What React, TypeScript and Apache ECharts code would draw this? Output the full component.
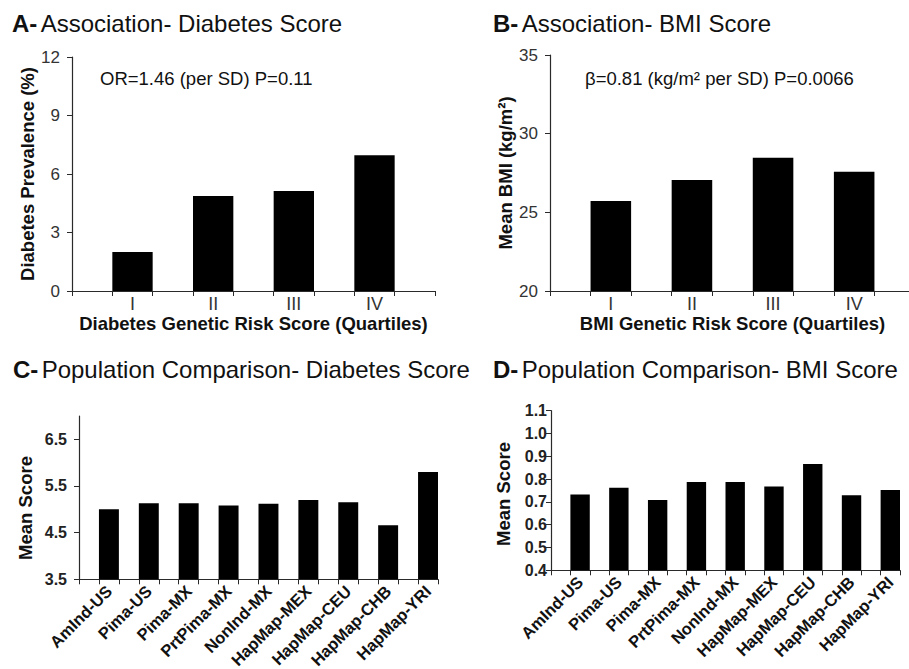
import React, { useEffect, useRef } from "react";
import * as echarts from "echarts";

const FONT = '"Liberation Sans", Arial, Helvetica, sans-serif';

// Panel A / B
const quartiles = ["I", "II", "III", "IV"];
const diabetesPrevalence = [2.0, 4.87, 5.13, 6.96];
const meanBmi = [25.72, 27.06, 28.47, 27.58];

// Panel C / D
const populations = [
  "AmInd-US",
  "Pima-US",
  "Pima-MX",
  "PrtPima-MX",
  "NonInd-MX",
  "HapMap-MEX",
  "HapMap-CEU",
  "HapMap-CHB",
  "HapMap-YRI",
];
const diabetesScore = [5.0, 5.13, 5.13, 5.08, 5.12, 5.2, 5.15, 4.66, 5.8];
const bmiScore = [0.732, 0.762, 0.708, 0.787, 0.787, 0.768, 0.866, 0.729, 0.752];

const diabetesScoreTicks = [3.5, 4.5, 5.5, 6.5];

function spaced(labels: string[], values: number[], trailing: boolean) {
  const cats: string[] = [];
  const vals: (number | null)[] = [];
  labels.forEach((l, i) => {
    cats.push(`gap${i}`);
    vals.push(null);
    cats.push(l);
    vals.push(values[i]);
  });
  if (trailing) {
    cats.push("gapEnd");
    vals.push(null);
  }
  return { cats, vals };
}

const hideGap = (v: string) => (v.startsWith("gap") ? "" : v);

const AXIS_COLOR = "#2a2a2a";

function catAxis(gridIndex: number, cats: string[], extra: any) {
  return {
    gridIndex,
    type: "category",
    data: cats,
    boundaryGap: true,
    axisLine: { show: true, lineStyle: { color: AXIS_COLOR, width: 1.2 } },
    axisTick: { show: true, interval: 0, length: 5, lineStyle: { color: AXIS_COLOR } },
    splitLine: { show: false },
    ...extra,
  };
}

function valAxis(gridIndex: number, extra: any) {
  return {
    gridIndex,
    type: "value",
    axisLine: { show: true, lineStyle: { color: AXIS_COLOR, width: 1.2 } },
    axisTick: { show: true, length: 5, lineStyle: { color: AXIS_COLOR } },
    splitLine: { show: false },
    ...extra,
  };
}

export default function App() {
  const ref = useRef<HTMLDivElement>(null);

  useEffect(() => {
    if (!ref.current) return;
    const chart = echarts.init(ref.current, null, { renderer: "svg" });

    const a = spaced(quartiles, diabetesPrevalence, true);
    const b = spaced(quartiles, meanBmi, true);
    const c = spaced(populations, diabetesScore, false);
    const d = spaced(populations, bmiScore, false);

    const quartLabel = {
      interval: 0,
      formatter: hideGap,
      fontSize: 18,
      color: "#333",
      margin: 4,
      fontFamily: FONT,
    };
    const popLabel = {
      interval: 0,
      formatter: hideGap,
      rotate: 45,
      fontSize: 16.5,
      fontWeight: "bold",
      color: "#111",
      margin: 9,
      fontFamily: FONT,
    };
    const xName = {
      nameLocation: "middle",
      nameGap: 21,
      nameTextStyle: { fontSize: 18.5, fontWeight: "bold", color: "#111", fontFamily: FONT },
    };
    const yName = (gap: number) => ({
      nameLocation: "middle",
      nameGap: gap,
      nameRotate: 90,
      nameTextStyle: { fontSize: 18.5, fontWeight: "bold", color: "#111", fontFamily: FONT },
    });

    const title = (letter: string, text: string, x: number, y: number) => ({
      type: "text",
      x,
      y,
      style: {
        text: `{b|${letter}} {r|${text}}`,
        verticalAlign: "middle",
        rich: {
          b: { fontSize: 24, fontWeight: "bold", fontFamily: FONT, fill: "#111" },
          r: { fontSize: 24, fontFamily: FONT, fill: "#111" },
        },
      },
    });

    const barSeries = (idx: number, data: (number | null)[]) => ({
      type: "bar",
      xAxisIndex: idx,
      yAxisIndex: idx,
      data,
      barCategoryGap: "0%",
      barGap: "0%",
      itemStyle: { color: "#000" },
      silent: true,
    });

    chart.setOption({
      animation: false,
      backgroundColor: "#fff",
      grid: [
        { left: 72, top: 57, width: 363, height: 234, outerBoundsMode: "none" },
        { left: 550, top: 55, width: 365, height: 236, outerBoundsMode: "none" },
        { left: 79, top: 416, width: 359, height: 163.3, outerBoundsMode: "none" },
        { left: 551, top: 410.7, width: 349, height: 159.6, outerBoundsMode: "none" },
      ],
      xAxis: [
        catAxis(0, a.cats, {
          axisLabel: quartLabel,
          name: "Diabetes Genetic Risk Score (Quartiles)",
          ...xName,
        }),
        catAxis(1, b.cats, {
          axisLabel: quartLabel,
          name: "BMI Genetic Risk Score (Quartiles)",
          ...xName,
        }),
        catAxis(2, c.cats, { axisLabel: popLabel }),
        catAxis(3, d.cats, { axisLabel: popLabel }),
      ],
      yAxis: [
        valAxis(0, {
          min: 0,
          max: 12,
          interval: 3,
          axisLabel: { fontSize: 17, color: "#333", margin: 12, fontFamily: FONT },
          name: "Diabetes Prevalence (%)",
          ...yName(34),
        }),
        valAxis(1, {
          min: 20,
          max: 35,
          interval: 5,
          axisLabel: { fontSize: 17, color: "#333", margin: 12, fontFamily: FONT },
          name: "Mean BMI (kg/m²)",
          ...yName(32),
        }),
        valAxis(2, {
          min: 3.5,
          max: 7,
          axisTick: {
            show: true,
            length: 5,
            customValues: diabetesScoreTicks,
            lineStyle: { color: AXIS_COLOR },
          },
          axisLabel: {
            customValues: diabetesScoreTicks,
            formatter: (v: number) => v.toFixed(1),
            fontSize: 16,
            fontWeight: "bold",
            color: "#222",
            margin: 12,
            fontFamily: FONT,
          },
        }),
        valAxis(3, {
          min: 0.4,
          max: 1.1,
          interval: 0.1,
          axisLabel: {
            formatter: (v: number) => v.toFixed(1),
            fontSize: 16,
            fontWeight: "bold",
            color: "#222",
            margin: 4,
            fontFamily: FONT,
          },
        }),
      ],
      series: [
        barSeries(0, a.vals),
        barSeries(1, b.vals),
        barSeries(2, c.vals),
        barSeries(3, d.vals),
      ],
      graphic: [
        title("A-", "Association- Diabetes Score", 12, 23),
        title("B-", "Association- BMI Score", 493, 23),
        title("C-", "Population Comparison- Diabetes Score", 13, 369),
        title("D-", "Population Comparison- BMI Score", 493, 369),
        {
          type: "text",
          x: 100,
          y: 78,
          style: {
            text: "OR=1.46 (per SD) P=0.11",
            verticalAlign: "middle",
            font: `18.5px ${FONT}`,
            fill: "#111",
          },
        },
        {
          type: "text",
          x: 585,
          y: 78,
          style: {
            text: "β=0.81 (kg/m² per SD) P=0.0066",
            verticalAlign: "middle",
            font: `18.5px ${FONT}`,
            fill: "#111",
          },
        },
        {
          type: "text",
          x: 25,
          y: 508,
          rotation: Math.PI / 2,
          style: {
            text: "Mean Score",
            align: "center",
            verticalAlign: "middle",
            font: `bold 18.5px ${FONT}`,
            fill: "#111",
          },
        },
        {
          type: "text",
          x: 503,
          y: 494,
          rotation: Math.PI / 2,
          style: {
            text: "Mean Score",
            align: "center",
            verticalAlign: "middle",
            font: `bold 18.5px ${FONT}`,
            fill: "#111",
          },
        },
      ],
    });

    return () => chart.dispose();
  }, []);

  return (
    <div
      ref={ref}
      style={{ position: "fixed", left: 0, top: 0, width: 909, height: 669, background: "#fff" }}
    />
  );
}
